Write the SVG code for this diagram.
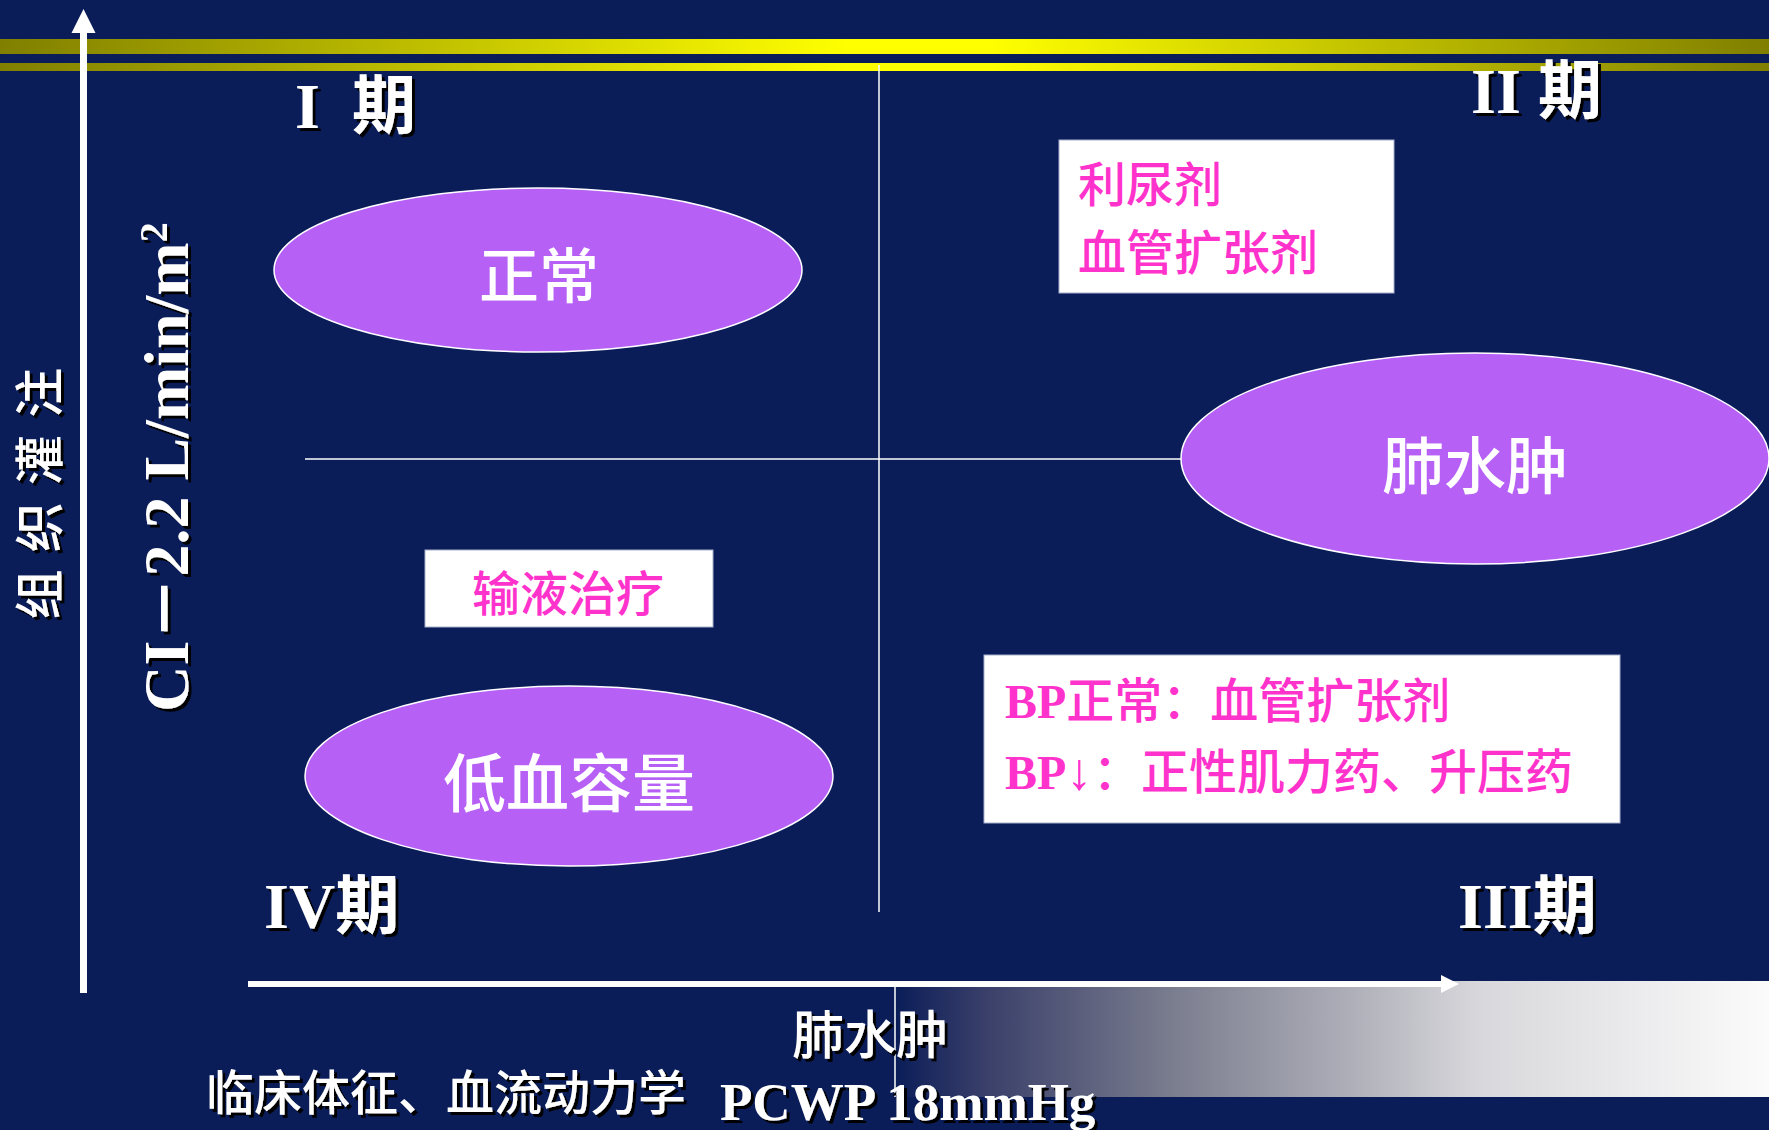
<svg xmlns="http://www.w3.org/2000/svg" width="1769" height="1130" viewBox="0 0 1769 1130">
  <defs>
    <linearGradient id="band" gradientUnits="userSpaceOnUse" x1="0" y1="0" x2="1769" y2="0">
      <stop offset="0" stop-color="#807f00"/>
      <stop offset="0.48" stop-color="#ffff00"/>
      <stop offset="0.56" stop-color="#ffff00"/>
      <stop offset="1" stop-color="#807f00"/>
    </linearGradient>
    <linearGradient id="fade" gradientUnits="userSpaceOnUse" x1="895" y1="0" x2="1769" y2="0">
      <stop offset="0" stop-color="#0a1d58"/>
      <stop offset="0.103" stop-color="#3a3f6a"/>
      <stop offset="0.316" stop-color="#7a7d8e"/>
      <stop offset="0.527" stop-color="#b0b0ba"/>
      <stop offset="0.669" stop-color="#d8d8dc"/>
      <stop offset="1" stop-color="#fbfbfb"/>
    </linearGradient>
    <filter id="sh" x="-10%" y="-10%" width="130%" height="130%">
      <feDropShadow dx="3" dy="3" stdDeviation="0" flood-color="#000" flood-opacity="1"/>
    </filter>
  </defs>
  <style>
    .cjk { font-family: "Noto Sans CJK SC", sans-serif; }
    .ser { font-family: "Liberation Serif", "Noto Sans CJK SC", serif; }
    .w { fill: #ffffff; }
    .wb { font-weight: 500; }
    .pk { fill: #ff33cc; font-size: 48px; font-weight: 500; }
    .ell { fill: #b660f5; stroke: #ffffff; stroke-width: 1.5; }
    .box { fill: #ffffff; stroke: #a8b0cc; stroke-width: 1; }
    .thin { stroke: #ffffff; stroke-width: 1.5; fill: none; }
    .ax { stroke: #ffffff; fill: none; }
    .ph { font-size: 64px; font-weight: bold; }
  </style>

  <rect x="0" y="0" width="1769" height="1130" fill="#0a1d58"/>

  <!-- decorative bands -->
  <rect x="0" y="39" width="1769" height="15" fill="url(#band)"/>
  <rect x="0" y="63" width="1769" height="8" fill="url(#band)"/>

  <!-- bottom gradient area -->
  <rect x="895" y="981" width="874" height="116" fill="url(#fade)"/>

  <g id="connectors">
    <line class="thin" x1="879" y1="65" x2="879" y2="912"/>
    <line class="thin" x1="305" y1="459" x2="1181" y2="459"/>
    <line class="thin" x1="895" y1="984" x2="895" y2="1097"/>
    <line class="ax" stroke-width="7" x1="83.5" y1="993" x2="83.5" y2="32"/>
    <path d="M71.5,33 L83.5,9 L95.5,33 z" fill="#fff"/>
    <line class="ax" stroke-width="6" x1="248" y1="984" x2="1442" y2="984"/>
    <path d="M1441,975 L1459,984 L1441,993 z" fill="#fff"/>
  </g>

  <g id="node-normal">
    <ellipse class="ell" cx="538" cy="270" rx="264" ry="82"/>
    <text class="cjk w wb" x="539" y="298" font-size="60" text-anchor="middle">正常</text>
  </g>

  <g id="node-edema">
    <ellipse class="ell" cx="1475" cy="458.5" rx="294" ry="105.5"/>
    <text class="cjk w wb" x="1475" y="489" font-size="62" text-anchor="middle">肺水肿</text>
  </g>

  <g id="node-hypovolemia">
    <ellipse class="ell" cx="569" cy="776" rx="264" ry="90"/>
    <text class="cjk w wb" x="569" y="806" font-size="63" text-anchor="middle">低血容量</text>
  </g>

  <g id="box-diuretic">
    <rect class="box" x="1059" y="140" width="335" height="153"/>
    <text class="cjk pk" x="1078" y="202">利尿剂</text>
    <text class="cjk pk" x="1078" y="270">血管扩张剂</text>
  </g>

  <g id="box-fluid">
    <rect class="box" x="425" y="550" width="288" height="77"/>
    <text class="cjk pk" x="568" y="611" text-anchor="middle">输液治疗</text>
  </g>

  <g id="box-bp">
    <rect class="box" x="984" y="655" width="636" height="168"/>
    <text class="ser pk" x="1005" y="718"><tspan font-weight="bold">BP</tspan><tspan class="cjk">正常：血管扩张剂</tspan></text>
    <text class="ser pk" x="1005" y="789"><tspan font-weight="bold">BP</tspan><tspan font-size="52" font-weight="normal">↓</tspan><tspan class="cjk" x="1093">：正性肌力药、升压药</tspan></text>
  </g>

  <g id="phase-labels" filter="url(#sh)">
    <text class="ser w ph" x="295" y="128">I <tspan class="cjk" x="352">期</tspan></text>
    <text class="ser w ph" x="1471" y="113">II <tspan class="cjk" x="1538">期</tspan></text>
    <text class="ser w ph" x="264" y="928">IV<tspan class="cjk">期</tspan></text>
    <text class="ser w ph" x="1458" y="928">III<tspan class="cjk">期</tspan></text>
  </g>

  <g id="axis-labels" filter="url(#sh)">
    <text class="cjk w wb" font-size="50" letter-spacing="3" text-anchor="middle" transform="translate(57.5,492) rotate(-90)">组 织 灌 注</text>
    <text class="ser w" font-weight="bold" font-size="64" text-anchor="middle" transform="translate(188,467) rotate(-90)">CI－2.2 L/min/m<tspan font-size="40" dy="-21">2</tspan></text>
    <text class="cjk w wb" font-size="52" x="870" y="1054" text-anchor="middle">肺水肿</text>
    <text class="cjk w wb" font-size="48" x="206" y="1110">临床体征、血流动力学</text>
    <text class="ser w" font-size="53" font-weight="bold" x="720" y="1120">PCWP 18mmHg</text>
  </g>
</svg>
